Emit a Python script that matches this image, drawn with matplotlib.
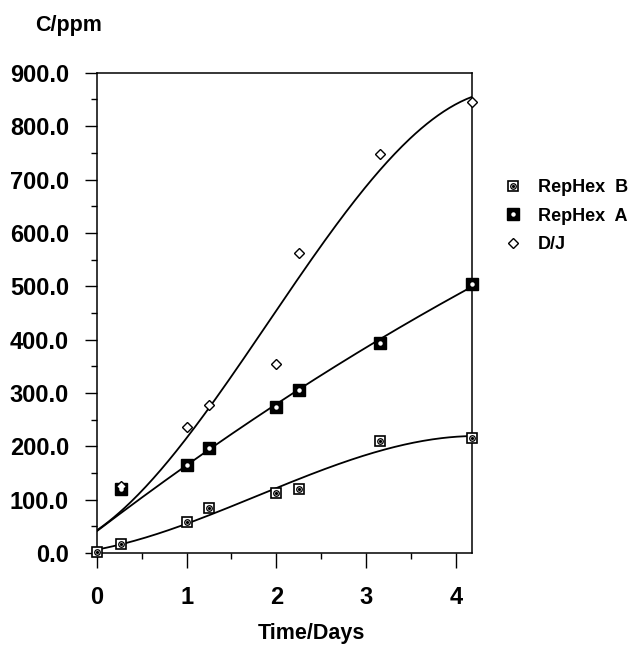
import matplotlib
matplotlib.use("Agg")
import matplotlib.pyplot as plt
import numpy as np
from matplotlib.legend_handler import HandlerTuple

plt.rcParams['font.family'] = ['Liberation Sans', 'DejaVu Sans']
plt.rcParams['font.weight'] = 'bold'

#---------- data
days = [0.0, 0.27, 1.0, 1.25, 2.0, 2.25, 3.15, 4.18]
rephex_b = [3, 17, 58, 85, 113, 120, 210, 215]
rephex_a = [3, 120, 165, 197, 273, 305, 393, 505]
dj = [3, 125, 237, 277, 355, 562, 748, 845]

x_ticks = [0, 1, 2, 3, 4]
y_ticks = [0, 100, 200, 300, 400, 500, 600, 700, 800, 900]

fig = plt.figure(figsize=(6.37, 6.5), dpi=100)
ax = fig.add_axes([0.152, 0.149, 0.589, 0.739])

#---------- fitted trend curves
xs = np.linspace(0, 4.18, 200)
for ys, deg in [(rephex_b, 3), (rephex_a, 2), (dj, 3)]:
    c = np.polyfit(days, ys, deg)
    ax.plot(xs, np.polyval(c, xs), color='black', lw=1.3, zorder=2)

#---------- markers
mk = dict(ls='none', clip_on=False)
b1, = ax.plot(days, rephex_b, marker='s', ms=7.5, mfc='white', mec='black', mew=1.2, zorder=3, **mk)
b2, = ax.plot(days, rephex_b, marker='o', ms=4, mfc='white', mec='black', mew=0.9, zorder=4, **mk)
b3, = ax.plot(days, rephex_b, marker='o', ms=1.3, color='black', zorder=5, **mk)
a1, = ax.plot(days[1:], rephex_a[1:], marker='s', ms=8, color='black', zorder=3, **mk)
a2, = ax.plot(days[1:], rephex_a[1:], marker='o', ms=2.2, color='white', zorder=4, **mk)
d1, = ax.plot(days[1:], dj[1:], marker='D', ms=5, mfc='white', mec='black', mew=1.0, zorder=3, **mk)

ax.set_xlim(0, 4.18)
ax.set_ylim(0, 900)
ax.set_xticks(x_ticks)
ax.set_xticklabels([str(t) for t in x_ticks])
ax.set_xticks(np.arange(0.5, 4.2, 1.0), minor=True)
ax.set_yticks(y_ticks)
ax.set_yticklabels(['%.1f' % t for t in y_ticks])
ax.set_yticks(np.arange(50, 900, 100), minor=True)
ax.tick_params(which='major', direction='out', width=1.0, labelsize=17)
ax.tick_params(axis='x', which='major', length=11, pad=13)
ax.tick_params(axis='y', which='major', length=9, pad=11)
ax.tick_params(which='minor', direction='out', length=4, width=1.0)
for s in ax.spines.values():
    s.set_linewidth(1.1)

fig.text(311 / 637, 1 - 633 / 650, 'Time/Days', ha='center', va='center', fontsize=15.5, fontweight='bold')
fig.text(69 / 637, 1 - 25 / 650, 'C/ppm', ha='center', va='center', fontsize=15.5, fontweight='bold')

fig.legend([(b1, b2, b3), (a1, a2), d1], ['RepHex  B', 'RepHex  A', 'D/J'],
           handler_map={tuple: HandlerTuple(ndivide=1, pad=0)},
           loc='upper left', bbox_to_anchor=(505 / 637, 1 - 179 / 650),
           frameon=False, handlelength=0.9, handletextpad=0.9,
           labelspacing=0.65, borderpad=0, borderaxespad=0,
           prop={'weight': 'bold', 'size': 13})

fig.savefig('out.png', dpi=100)
